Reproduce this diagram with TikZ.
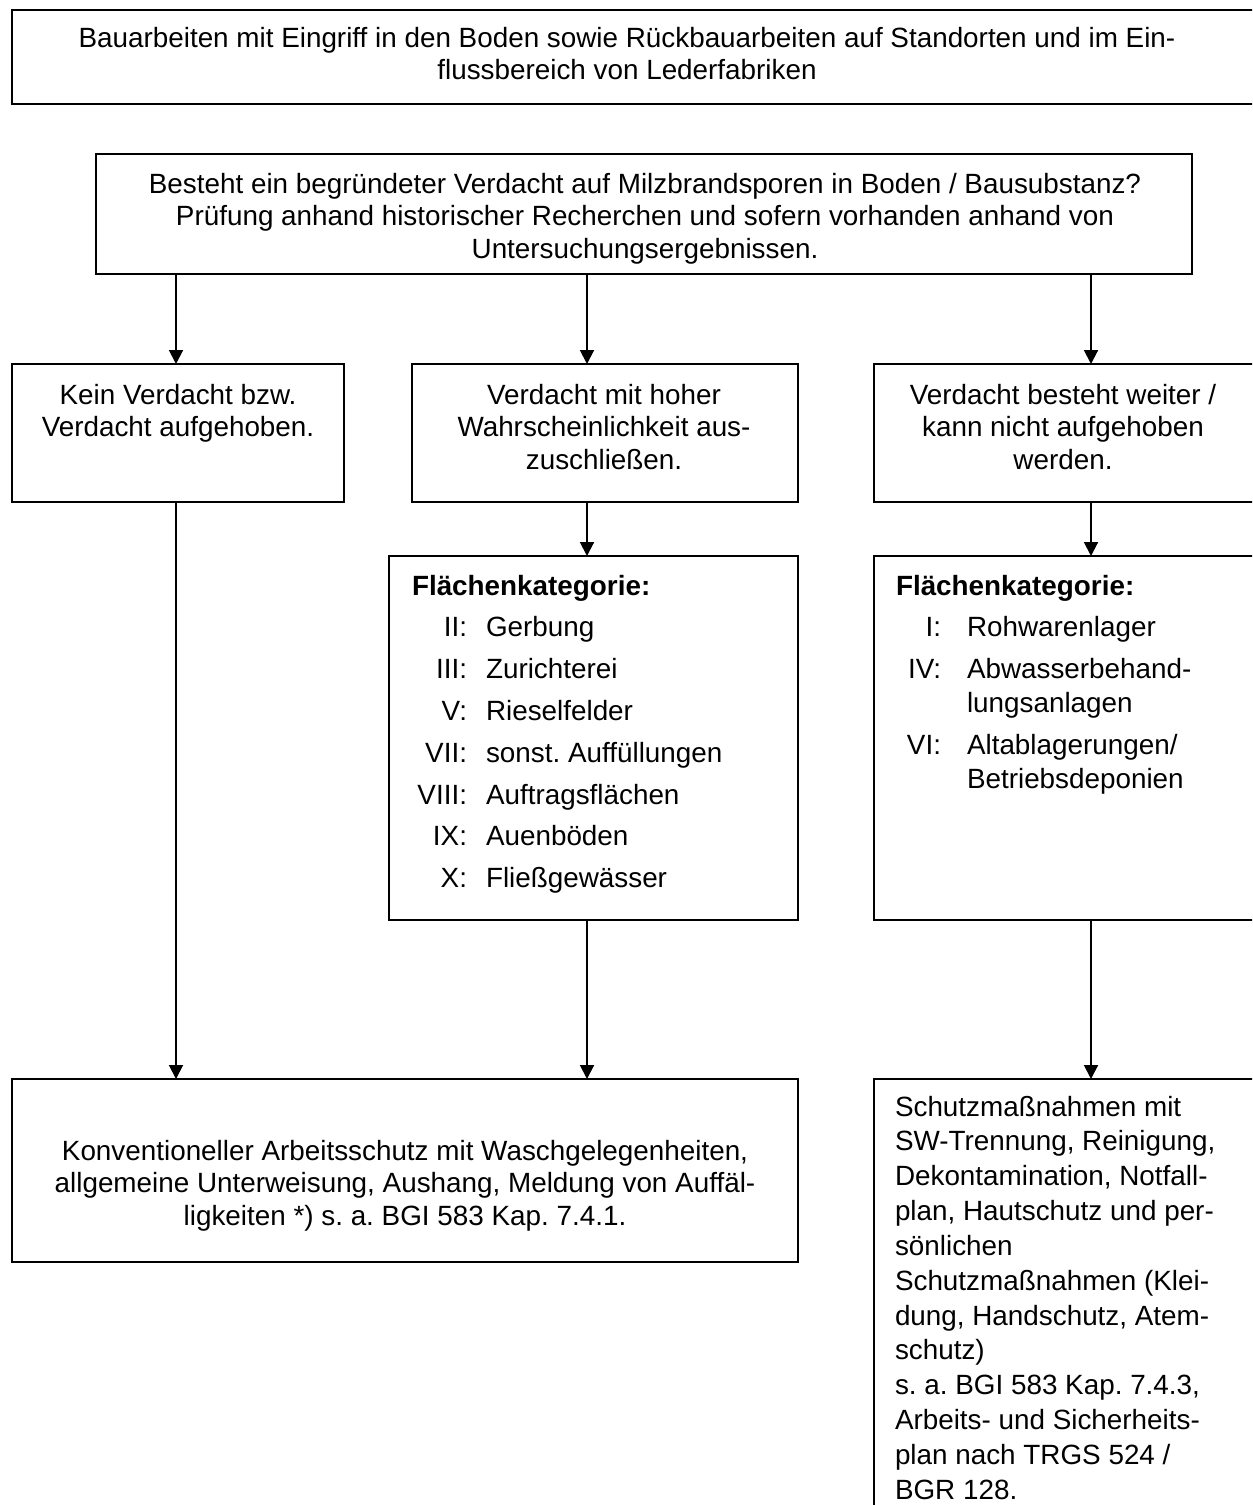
\documentclass[tikz,border=0pt]{standalone}
\usepackage{fontspec}
\setmainfont{Liberation Sans}
\usetikzlibrary{arrows.meta}
\frenchspacing
\begin{document}
\begin{tikzpicture}[x=0.431pt,y=-0.431pt,
  box/.style={draw, line width=0.85pt, rectangle, inner sep=0pt, outer sep=0pt, anchor=north west},
  txt/.style={inner sep=0pt, outer sep=0pt, font=\fontsize{12}{14}\selectfont},
  ctxt/.style={txt, align=center, anchor=north},
  ltxt/.style={txt, align=left, anchor=north west},
  arr/.style={line width=0.85pt, -{Triangle[length=6pt,width=6pt]}}]
\useasboundingbox (0,0) rectangle (1252,1505);
\fill[white] (0,0) rectangle (1252,1505);
\clip (0,0) rectangle (1252,1505);

% boxes
\node[box, minimum width=538.75pt, minimum height=40.51pt] (top) at (12,10) {};
\node[box, minimum width=472.38pt, minimum height=51.72pt] (q) at (96,154) {};
\node[box, minimum width=143.09pt, minimum height=59.48pt] (kv) at (12,364) {};
\node[box, minimum width=166.37pt, minimum height=59.48pt] (mv) at (412,364) {};
\node[box, minimum width=167.23pt, minimum height=59.48pt] (rv) at (874,364) {};
\node[box, minimum width=176.28pt, minimum height=156.88pt] (mf) at (389,556) {};
\node[box, minimum width=167.23pt, minimum height=156.88pt] (rf) at (874,556) {};
\node[box, minimum width=338.77pt, minimum height=78.87pt] (bl) at (12,1079) {};
\node[box, minimum width=167.23pt, minimum height=190.07pt] (br) at (874,1079) {};

% texts
\node[ctxt] (ttop) at (627,27) {Bauarbeiten mit Eingriff in den Boden sowie Rückbauarbeiten auf Standorten und im Ein-\\flussbereich von Lederfabriken};
\node[ctxt] (tq) at (645,173) {Besteht ein begründeter Verdacht auf Milzbrandsporen in Boden / Bausubstanz?\\Prüfung anhand historischer Recherchen und sofern vorhanden anhand von\\Untersuchungsergebnissen.};
\node[ctxt] (tkv) at (178,384) {Kein Verdacht bzw.\\Verdacht aufgehoben.};
\node[ctxt] (tmv) at (604,384) {Verdacht mit hoher\\Wahrscheinlichkeit aus-\\zuschließen.};
\node[ctxt] (trv) at (1063,384) {Verdacht besteht weiter /\\kann nicht aufgehoben\\werden.};
\node[ltxt] (tmf) at (412,575) {\textbf{Flächenkategorie:}\\[4pt]
\makebox[23.7pt][r]{II:}\hspace{8.2pt}Gerbung\\[4pt]
\makebox[23.7pt][r]{III:}\hspace{8.2pt}Zurichterei\\[4pt]
\makebox[23.7pt][r]{V:}\hspace{8.2pt}Rieselfelder\\[4pt]
\makebox[23.7pt][r]{VII:}\hspace{8.2pt}sonst. Auffüllungen\\[4pt]
\makebox[23.7pt][r]{VIII:}\hspace{8.2pt}Auftragsflächen\\[4pt]
\makebox[23.7pt][r]{IX:}\hspace{8.2pt}Auenböden\\[4pt]
\makebox[23.7pt][r]{X:}\hspace{8.2pt}Fließgewässer};
\node[ltxt] (trf) at (896,575) {\textbf{Flächenkategorie:}\\[3.7pt]
\makebox[19.4pt][r]{I:}\hspace{11.2pt}Rohwarenlager\\[4pt]
\makebox[19.4pt][r]{IV:}\hspace{11.2pt}Abwasserbehand-\\[1pt]
\hspace*{30.6pt}lungsanlagen\\[4pt]
\makebox[19.4pt][r]{VI:}\hspace{11.2pt}Altablagerungen/\\[0.6pt]
\hspace*{30.6pt}Betriebsdeponien};
\node[ctxt] (tbl) at (405,1140) {Konventioneller Arbeitsschutz mit Waschgelegenheiten,\\allgemeine Unterweisung, Aushang, Meldung von Auffäl-\\ligkeiten *) s. a. BGI 583 Kap. 7.4.1.};
\node[ltxt, font=\fontsize{12}{15}\selectfont] (tbr) at (895,1096) {Schutzmaßnahmen mit\\SW-Trennung, Reinigung,\\Dekontamination, Notfall-\\plan, Hautschutz und per-\\sönlichen\\Schutzmaßnahmen (Klei-\\dung, Handschutz, Atem-\\schutz)\\s. a. BGI 583 Kap. 7.4.3,\\Arbeits- und Sicherheits-\\plan nach TRGS 524 /\\BGR 128.};

% arrow columns
\coordinate (c1) at (176,0);
\coordinate (c2) at (587,0);
\coordinate (c3) at (1091,0);

\draw[arr] (q.south -| c1) -- (kv.north -| c1);
\draw[arr] (q.south -| c2) -- (mv.north -| c2);
\draw[arr] (q.south -| c3) -- (rv.north -| c3);
\draw[arr] (mv.south -| c2) -- (mf.north -| c2);
\draw[arr] (rv.south -| c3) -- (rf.north -| c3);
\draw[arr] (kv.south -| c1) -- (bl.north -| c1);
\draw[arr] (mf.south -| c2) -- (bl.north -| c2);
\draw[arr] (rf.south -| c3) -- (br.north -| c3);
\end{tikzpicture}
\end{document}
